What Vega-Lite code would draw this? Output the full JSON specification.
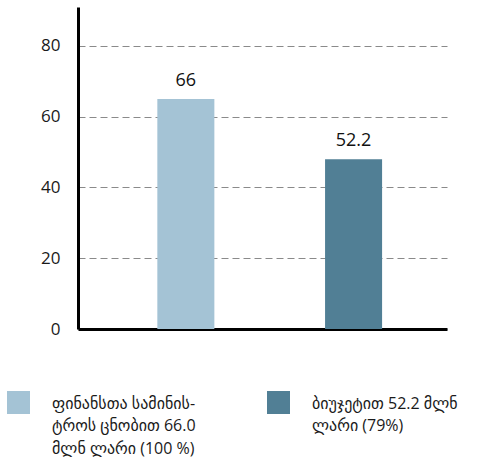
{
  "$schema": "https://vega.github.io/schema/vega-lite/v6.json",
  "width": 369,
  "height": 322,
  "autosize": {"type": "none"},
  "padding": {"left": 78, "top": 7, "right": 34, "bottom": 128},
  "background": "white",
  "config": {
    "view": {"stroke": null},
    "font": "Open Sans, DejaVu Sans, sans-serif"
  },
  "data": {
    "values": [
      {"cat": "ფინანსთა სამინის-|ტროს ცნობით 66.0|მლნ ლარი (100 %)", "value": 65, "label": "66"},
      {"cat": "ბიუჯეტით 52.2 მლნ|ლარი (79%)", "value": 48, "label": "52.2"}
    ]
  },
  "encoding": {
    "x": {
      "field": "cat",
      "type": "nominal",
      "sort": null,
      "scale": {"paddingInner": 0.66, "paddingOuter": 0.43, "align": 0.55},
      "axis": {"labels": false, "ticks": false, "title": null, "domain": true, "domainColor": "#000000", "domainWidth": 3, "grid": false}
    },
    "y": {
      "field": "value",
      "type": "quantitative",
      "scale": {"domain": [0, 91], "nice": false},
      "axis": {
        "values": [0, 20, 40, 60, 80],
        "title": null,
        "ticks": false,
        "domainColor": "#000000",
        "domainWidth": 3,
        "grid": true,
        "gridColor": "#8a8a8a",
        "gridDash": [7, 4],
        "gridWidth": 1,
        "labelFontSize": 17,
        "labelColor": "#1a1a1a",
        "labelPadding": 18
      }
    }
  },
  "layer": [
    {
      "mark": {"type": "bar"},
      "encoding": {
        "color": {
          "field": "cat",
          "type": "nominal",
          "sort": null,
          "scale": {"range": ["#a4c3d5", "#517f95"]},
          "legend": {
            "orient": "none",
            "legendX": -71,
            "legendY": 384,
            "direction": "horizontal",
            "columns": 2,
            "gridAlign": "none",
            "title": null,
            "symbolType": "square",
            "symbolSize": 529,
            "symbolStrokeWidth": 0,
            "symbolOpacity": 1,
            "labelFontSize": 16,
            "labelColor": "#1a1a1a",
            "labelOffset": 22,
            "labelLimit": 300,
            "labelBaseline": "alphabetic",
            "labelExpr": "split(datum.label, '|')",
            "columnPadding": 71,
            "encode": {
              "labels": {"update": {"dy": {"value": 6}, "lineHeight": {"value": 22.5}}}
            }
          }
        }
      }
    },
    {
      "mark": {"type": "text", "dy": -9, "baseline": "bottom", "fontSize": 18, "color": "#111111"},
      "encoding": {"text": {"field": "label"}}
    }
  ]
}
